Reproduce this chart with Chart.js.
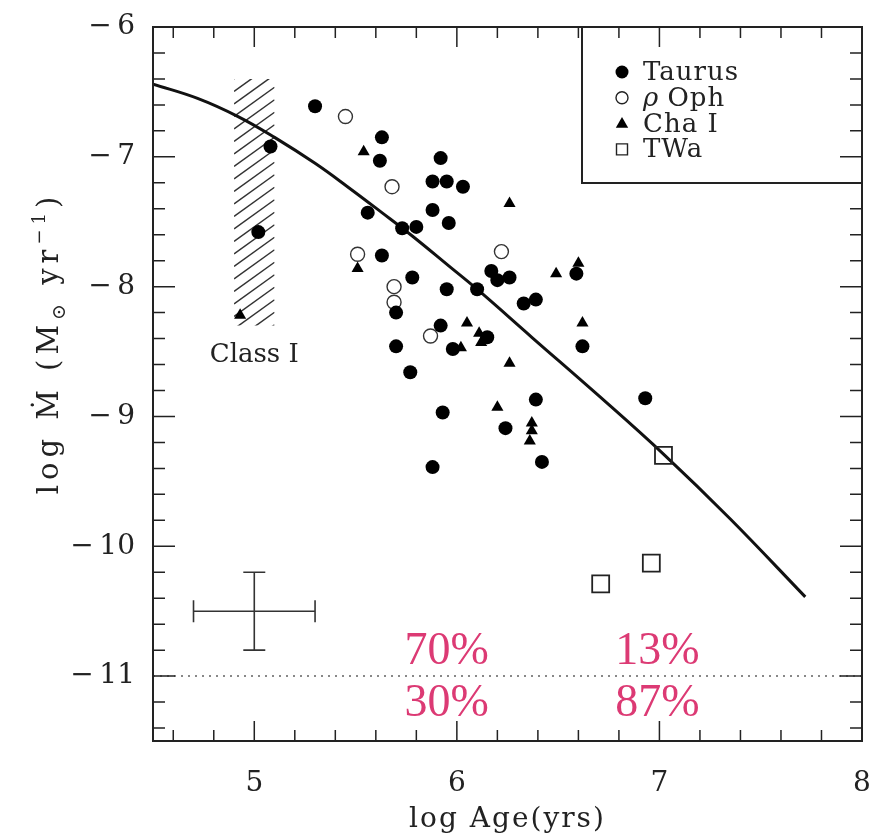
<!DOCTYPE html>
<html lang="en">
<head>
<meta charset="UTF-8">
<title>Accretion rate vs age</title>
<script src="https://cdn.jsdelivr.net/npm/chart.js"></script>
<style>
  html, body { margin: 0; padding: 0; background: #fff; }
  canvas { display: block; }
</style>
</head>
<body>
<canvas id="mdotChart" width="884" height="839"></canvas>
<script>
// ======= Data =======
const taurusX = [5.30, 5.08, 5.02, 5.63, 5.62, 5.92, 5.88, 5.95, 6.03, 5.56, 5.88, 5.96, 5.73, 5.80, 5.63,
                 6.17, 6.20, 6.26, 6.59, 5.78, 5.95, 6.10, 5.70, 6.33, 6.39, 5.92, 6.15, 5.98, 5.70, 6.62,
                 5.77, 6.39, 5.93, 6.24, 6.42, 5.88, 6.93];
const taurusY = [-6.61, -6.92, -7.58, -6.85, -7.03, -7.01, -7.19, -7.19, -7.23, -7.43, -7.41, -7.51, -7.55, -7.54, -7.76,
                 -7.88, -7.95, -7.93, -7.90, -7.93, -8.02, -8.02, -8.20, -8.13, -8.10, -8.30, -8.39, -8.48, -8.46, -8.46,
                 -8.66, -8.87, -8.97, -9.09, -9.35, -9.39, -8.86];

const ophX = [5.45, 5.68, 5.51, 6.22, 5.69, 5.69, 5.87];
const ophY = [-6.69, -7.23, -7.75, -7.73, -8.00, -8.12, -8.38];

const chaX = [5.54, 6.26, 5.51, 6.49, 6.60, 6.05, 6.62, 6.11, 6.12, 6.02, 6.26, 6.20, 6.37, 6.37, 6.36, 4.93];
const chaY = [-6.96, -7.36, -7.86, -7.90, -7.82, -8.28, -8.28, -8.36, -8.43, -8.47, -8.59, -8.93, -9.05, -9.11, -9.19, -8.22];

const twaX = [7.02, 6.71, 6.96];
const twaY = [-9.30, -10.29, -10.13];

// model curve
const fitX = [4.50, 4.72, 4.92, 5.10, 5.30, 5.46, 5.63, 5.78, 5.96, 6.10, 6.37, 6.70, 7.02, 7.35, 7.72];
const fitY = [-6.44, -6.55, -6.69, -6.85, -7.05, -7.23, -7.43, -7.61, -7.84, -8.02, -8.39, -8.84, -9.29, -9.79, -10.39];

const xTicks = [5, 6, 7, 8];
const yTicks = [-6, -7, -8, -9, -10, -11];

const detectionLimit = -11;
const classIAge = [4.9, 5.1];
const classIRate = [-8.3, -6.4];
const typicalError = { x: 5.0, y: -10.5, dx: 0.3, dy: 0.3 };

const legendLabels = ['Taurus', '\u03c1 Oph', 'Cha I', 'TWa'];
const fractionsAbove = ['70%', '13%'];
const fractionsBelow = ['30%', '87%'];

// ======= Helpers =======
const toXY = (xs, ys) => xs.map((x, i) => ({ x: x, y: ys[i] }));
const SERIF = '"DejaVu Serif", serif';
const INK = '#222';

function drawSymbol(ctx, kind, x, y, r) {
    ctx.save();
    ctx.strokeStyle = INK;
    ctx.fillStyle = '#000';
    ctx.lineWidth = 1.4;
    ctx.beginPath();
    if (kind === 0) {
        ctx.arc(x, y, r, 0, Math.PI * 2);
        ctx.fill();
    } else if (kind === 1) {
        ctx.arc(x, y, r, 0, Math.PI * 2);
        ctx.stroke();
    } else if (kind === 2) {
        ctx.moveTo(x, y - r);
        ctx.lineTo(x + r * 0.95, y + r * 0.65);
        ctx.lineTo(x - r * 0.95, y + r * 0.65);
        ctx.closePath();
        ctx.fill();
    } else {
        ctx.rect(x - r, y - r, 2 * r, 2 * r);
        ctx.stroke();
    }
    ctx.restore();
}

// ======= Decorations drawn through the chart scales =======
const figurePlugin = {
    id: 'figure',
    beforeDatasetsDraw(chart) {
        const { ctx, scales: { x, y } } = chart;
        // Class I hatched band
        const l = x.getPixelForValue(classIAge[0]), r = x.getPixelForValue(classIAge[1]);
        const t = y.getPixelForValue(classIRate[1]), b = y.getPixelForValue(classIRate[0]);
        ctx.save();
        ctx.beginPath();
        ctx.rect(l, t, r - l, b - t);
        ctx.clip();
        ctx.strokeStyle = '#333';
        ctx.lineWidth = 1.5;
        const w = r - l, rise = w * 0.72;
        for (let yy = t - rise; yy < b + rise; yy += 12.5) {
            ctx.beginPath();
            ctx.moveTo(l, yy + rise);
            ctx.lineTo(r, yy);
            ctx.stroke();
        }
        ctx.restore();

        // typical error cross
        const cx = x.getPixelForValue(typicalError.x), cy = y.getPixelForValue(typicalError.y);
        const x0 = x.getPixelForValue(typicalError.x - typicalError.dx);
        const x1 = x.getPixelForValue(typicalError.x + typicalError.dx);
        const y0 = y.getPixelForValue(typicalError.y + typicalError.dy);
        const y1 = y.getPixelForValue(typicalError.y - typicalError.dy);
        const cap = 11;
        ctx.save();
        ctx.strokeStyle = '#333';
        ctx.lineWidth = 1.6;
        ctx.beginPath();
        ctx.moveTo(x0, cy); ctx.lineTo(x1, cy);
        ctx.moveTo(cx, y0); ctx.lineTo(cx, y1);
        ctx.moveTo(x0, cy - cap); ctx.lineTo(x0, cy + cap);
        ctx.moveTo(x1, cy - cap); ctx.lineTo(x1, cy + cap);
        ctx.moveTo(cx - cap, y0); ctx.lineTo(cx + cap, y0);
        ctx.moveTo(cx - cap, y1); ctx.lineTo(cx + cap, y1);
        ctx.stroke();
        ctx.restore();
    },
    afterDraw(chart) {
        const { ctx, chartArea: a, scales: { x, y } } = chart;
        ctx.save();
        // frame
        ctx.strokeStyle = INK;
        ctx.lineWidth = 2;
        ctx.strokeRect(a.left, a.top, a.right - a.left, a.bottom - a.top);

        // inward ticks on all four sides, minor every 0.2
        ctx.lineWidth = 1.5;
        ctx.beginPath();
        for (let i = 23; i <= 39; i++) {
            const p = x.getPixelForValue(i / 5);
            const len = i % 5 === 0 ? 20 : 11;
            ctx.moveTo(p, a.bottom); ctx.lineTo(p, a.bottom - len);
            ctx.moveTo(p, a.top); ctx.lineTo(p, a.top + len);
        }
        for (let i = -57; i <= -31; i++) {
            const p = y.getPixelForValue(i / 5);
            const len = i % 5 === 0 ? 22 : 12;
            ctx.moveTo(a.left, p); ctx.lineTo(a.left + len, p);
            ctx.moveTo(a.right, p); ctx.lineTo(a.right - len, p);
        }
        ctx.stroke();

        // tick labels
        ctx.fillStyle = INK;
        ctx.font = '28px ' + SERIF;
        ctx.textAlign = 'center';
        ctx.textBaseline = 'alphabetic';
        xTicks.forEach(v => ctx.fillText(String(v), x.getPixelForValue(v), 791));
        ctx.textAlign = 'right';
        ctx.textBaseline = 'middle';
        yTicks.forEach(v => ctx.fillText('\u2212\u2009' + Math.abs(v), a.left - 18, y.getPixelForValue(v)));

        // axis titles
        ctx.textAlign = 'center';
        ctx.textBaseline = 'alphabetic';
        ctx.font = '28px ' + SERIF;
        ctx.letterSpacing = '2px';
        ctx.fillText('log Age(yrs)', (a.left + a.right) / 2, 827);
        ctx.letterSpacing = '0px';

        const parts = [
            { t: 'log ', size: 29, dy: 0 },
            { t: '\u1e40', size: 29, dy: 0 },
            { t: ' (M', size: 29, dy: 0 },
            { t: '\u2299', size: 19, dy: 7 },
            { t: ' yr', size: 29, dy: 0 },
            { t: '\u22121', size: 18, dy: -13 },
            { t: ')', size: 29, dy: 0 }
        ];
        ctx.save();
        ctx.translate(47, 343);
        ctx.rotate(-Math.PI / 2);
        ctx.textAlign = 'left';
        ctx.letterSpacing = '5px';
        let total = 0;
        parts.forEach(p => { ctx.font = p.size + 'px ' + SERIF; p.w = ctx.measureText(p.t).width; total += p.w; });
        let u = -total / 2;
        parts.forEach(p => {
            ctx.font = p.size + 'px ' + SERIF;
            ctx.fillText(p.t, u, 11 + p.dy);
            u += p.w;
        });
        ctx.letterSpacing = '0px';
        ctx.restore();

        // Class I label
        ctx.font = '26px ' + SERIF;
        ctx.textAlign = 'center';
        ctx.textBaseline = 'middle';
        ctx.fillText('Class I', x.getPixelForValue(5.0), y.getPixelForValue(-8.53));

        // detected / undetected fractions
        ctx.fillStyle = '#dc3a74';
        ctx.font = '46px "Liberation Serif", serif';
        ctx.textBaseline = 'alphabetic';
        [5.95, 6.99].forEach((ax, i) => {
            ctx.fillText(fractionsAbove[i], x.getPixelForValue(ax), y.getPixelForValue(-10.91));
            ctx.fillText(fractionsBelow[i], x.getPixelForValue(ax), y.getPixelForValue(-11.31));
        });

        // legend box
        const bl = a.right - 280, bb = a.top + 156;
        ctx.strokeStyle = INK;
        ctx.lineWidth = 2;
        ctx.beginPath();
        ctx.moveTo(bl, a.top); ctx.lineTo(bl, bb); ctx.lineTo(a.right, bb);
        ctx.stroke();
        ctx.fillStyle = INK;
        ctx.textAlign = 'left';
        ctx.textBaseline = 'alphabetic';
        const symR = [6.5, 6, 6.5, 5.5];
        legendLabels.forEach((lab, i) => {
            const ry = a.top + 53 + i * 25.8;
            drawSymbol(ctx, i, bl + 40, ry - 8, symR[i]);
            let tx = bl + 61;
            ctx.fillStyle = INK;
            if (lab.startsWith('\u03c1')) {
                ctx.font = 'italic 26px ' + SERIF;
                ctx.fillText('\u03c1', tx, ry);
                tx += ctx.measureText('\u03c1').width;
                lab = lab.slice(1);
            }
            ctx.font = '26px ' + SERIF;
            ctx.letterSpacing = '1px';
            ctx.fillText(lab, tx, ry);
            ctx.letterSpacing = '0px';
        });
        ctx.restore();
    }
};

// ======= Chart =======
new Chart(document.getElementById('mdotChart'), {
    type: 'scatter',
    data: {
        datasets: [
            {
                label: 'Taurus',
                data: toXY(taurusX, taurusY),
                pointStyle: 'circle',
                pointRadius: 7,
                backgroundColor: '#000',
                borderColor: '#000',
                borderWidth: 0
            },
            {
                label: 'rho Oph',
                data: toXY(ophX, ophY),
                pointStyle: 'circle',
                pointRadius: 7,
                backgroundColor: 'rgba(255,255,255,0)',
                borderColor: '#333',
                borderWidth: 1.4
            },
            {
                label: 'Cha I',
                data: toXY(chaX, chaY),
                pointStyle: 'triangle',
                pointRadius: 7,
                backgroundColor: '#000',
                borderColor: '#000',
                borderWidth: 0
            },
            {
                label: 'TWa',
                data: toXY(twaX, twaY),
                pointStyle: 'rect',
                pointRadius: 12,
                backgroundColor: 'rgba(255,255,255,0)',
                borderColor: '#222',
                borderWidth: 1.8
            },
            {
                label: 'model',
                type: 'line',
                data: toXY(fitX, fitY),
                borderColor: '#111',
                borderWidth: 3,
                pointRadius: 0,
                tension: 0.4,
                fill: false
            },
            {
                label: 'limit',
                type: 'line',
                data: [{ x: 4.5, y: detectionLimit }, { x: 8, y: detectionLimit }],
                borderColor: '#888',
                borderWidth: 2,
                borderDash: [2, 5],
                pointRadius: 0,
                fill: false
            }
        ]
    },
    options: {
        responsive: false,
        animation: false,
        devicePixelRatio: 1,
        layout: { padding: { left: 153, right: 22, top: 27, bottom: 98 } },
        scales: {
            x: { type: 'linear', min: 4.5, max: 8, display: false },
            y: { type: 'linear', min: -11.5, max: -6, display: false }
        },
        plugins: {
            legend: { display: false },
            tooltip: { enabled: false }
        }
    },
    plugins: [figurePlugin]
});
</script>
</body>
</html>
